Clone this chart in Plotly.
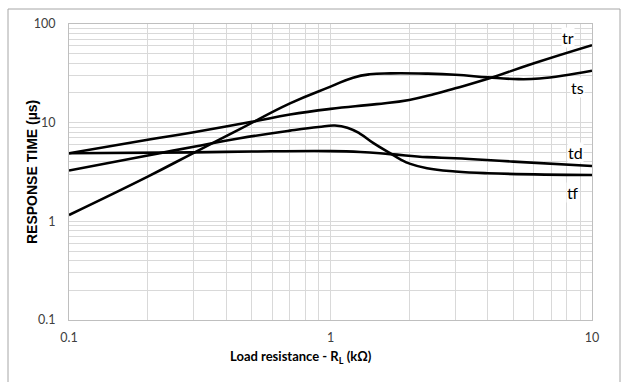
import plotly.graph_objects as go

# Switching response times vs. load resistance (log-log)
tr_x = [0.1, 0.2, 0.3, 0.5, 0.7, 1.0, 1.5, 2.0, 2.5, 3.0, 4.0, 6.0, 10.0]
tr_y = [4.9, 6.7, 8.0, 10.2, 12.1, 13.8, 15.4, 17.0, 19.5, 22.3, 27.8, 40.0, 61.0]

ts_x = [0.1, 0.2, 0.3, 0.45, 0.7, 1.0, 1.22, 1.41, 1.7, 2.34, 3.0, 4.0, 5.0, 6.3, 10.0]
ts_y = [1.16, 2.84, 4.95, 8.6, 15.7, 23.2, 28.6, 30.9, 31.6, 31.4, 30.6, 28.8, 27.7, 28.0, 33.6]

td_x = [0.1, 0.3, 0.5, 1.0, 1.3, 1.69, 2.34, 3.0, 5.0, 10.0]
td_y = [4.9, 5.0, 5.1, 5.15, 5.05, 4.8, 4.47, 4.36, 4.03, 3.64]

tf_x = [0.1, 0.2, 0.3, 0.45, 0.7, 0.9, 1.04, 1.16, 1.29, 1.46, 1.69, 1.85, 2.02, 2.34, 3.0, 4.0, 10.0]
tf_y = [3.27, 4.65, 5.7, 6.95, 8.3, 9.05, 9.35, 8.9, 7.8, 6.2, 4.9, 4.25, 3.82, 3.45, 3.2, 3.07, 2.95]

series = [("tr", tr_x, tr_y), ("ts", ts_x, ts_y), ("td", td_x, td_y), ("tf", tf_x, tf_y)]

# Label anchor points (log10 of x and y)
label_names = ["tr", "ts", "td", "tf"]
label_lx = [0.908, 0.943, 0.935, 0.927]
label_ly = [1.868, 1.352, 0.693, 0.288]

x_ticks = [0.1, 1, 10]
x_tick_text = ["0.1", "1", "10"]
y_ticks = [0.1, 1, 10, 100]
y_tick_text = ["0.1", "1", "10", "100"]

minor_x = [m * d for d in (0.1, 1) for m in range(2, 10)]
minor_y = [m * d for d in (0.1, 1, 10) for m in range(2, 10)]

W, H = 622, 382
L, R, T, B = 69, 30, 24, 62
pw, ph = W - L - R, H - T - B

fig = go.Figure()
for name, xs, ys in series:
    fig.add_trace(go.Scatter(
        x=xs, y=ys, mode="lines", name=name,
        line=dict(color="black", width=2.6, shape="spline", smoothing=1.3),
        showlegend=False, hoverinfo="skip",
    ))

for name, lx, ly in zip(label_names, label_lx, label_ly):
    fig.add_annotation(
        x=lx, y=ly, xref="x", yref="y", text=name, showarrow=False,
        font=dict(family="Lato", size=16, color="black"),
        bgcolor="white", borderpad=0,
    )

grid_col = "#d9d9d9"
tick_font = dict(family="Lato", size=12.5, color="#404040")

fig.update_xaxes(
    type="log", range=[-1, 1],
    tickvals=x_ticks, ticktext=x_tick_text, tickfont=tick_font,
    showgrid=True, gridcolor=grid_col, gridwidth=1,
    minor=dict(tickvals=minor_x, showgrid=True, gridcolor=grid_col, gridwidth=1),
    showline=True, linecolor="#bfbfbf", linewidth=1, mirror=True,
    zeroline=False, ticks="", ticklabelstandoff=6,
)
fig.update_yaxes(
    type="log", range=[-1, 2],
    tickvals=y_ticks, ticktext=y_tick_text, tickfont=tick_font,
    showgrid=True, gridcolor=grid_col, gridwidth=1,
    minor=dict(tickvals=minor_y, showgrid=True, gridcolor=grid_col, gridwidth=1),
    showline=True, linecolor="#bfbfbf", linewidth=1, mirror=True,
    zeroline=False, ticks="", ticklabelstandoff=10,
)

def px_to_paper(px, py):
    return (px - L) / pw, (H - B - py) / ph

# Axis titles
tx, ty = px_to_paper(301, 357)
fig.add_annotation(
    x=tx, y=ty, xref="paper", yref="paper", showarrow=False,
    xanchor="center", yanchor="middle",
    text="Load resistance - R<sub>L</sub> (kΩ)",
    font=dict(family="Lato", size=13, color="black", weight="bold"),
)
yx, yy = px_to_paper(32, 172)
fig.add_annotation(
    x=yx, y=yy, xref="paper", yref="paper", showarrow=False, textangle=-90,
    xanchor="center", yanchor="middle",
    text="RESPONSE TIME (µs)",
    font=dict(family="Liberation Sans", size=14, color="black", weight="bold"),
)

# Outer chart frame
bx0, by1 = px_to_paper(8, 9)
bx1, by0 = px_to_paper(620, 395)
fig.add_shape(type="rect", xref="paper", yref="paper",
              x0=bx0, x1=bx1, y0=by0, y1=by1,
              line=dict(color="#a6a6a6", width=1), fillcolor="rgba(0,0,0,0)")

fig.update_layout(
    width=W, height=H,
    margin=dict(l=L, r=R, t=T, b=B),
    paper_bgcolor="white", plot_bgcolor="white",
)

fig.write_html("out.html")
